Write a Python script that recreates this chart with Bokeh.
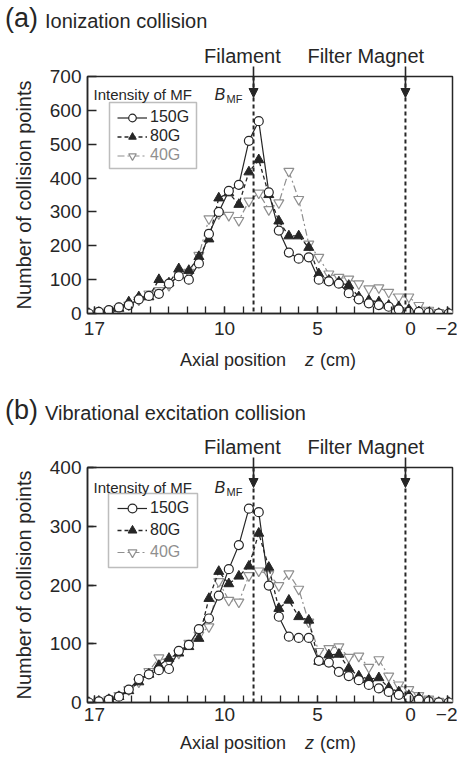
from bokeh.plotting import figure
from bokeh.models import (Span, Arrow, NormalHead, Label, Legend, LegendItem, LinearAxis,
                          FixedTicker, SingleIntervalTicker, Range1d, BoxAnnotation,
                          ColumnDataSource, Div)
from bokeh.layouts import column
from bokeh.embed import file_html
from bokeh.resources import INLINE

# ---------------- data ----------------
z = [17.30, 16.76, 16.22, 15.68, 15.15, 14.61, 14.07, 13.53, 12.99, 12.46,
     11.92, 11.38, 10.84, 10.31, 9.77, 9.23, 8.69, 8.16, 7.62, 7.08,
     6.54, 6.01, 5.47, 4.93, 4.39, 3.85, 3.32, 2.78, 2.24, 1.70,
     1.17, 0.63, 0.09, -0.45, -0.98, -1.52, -2.06]

ion_150G = [0, 5, 10, 18, 25, 42, 52, 58, 88, 110, 100, 148, 235, 300, 362, 380, 510, 568, 358, 245,
            180, 162, 166, 100, 95, 88, 60, 42, 30, 25, 20, 12, 5, 5, 3, 0, 0]
ion_80G = [0, 3, 8, 15, 34, 49, 49, 100, 90, 132, 127, 168, 220, 341, 356, 322, 418, 454, 351, 273,
           229, 229, 195, 117, 98, 93, 83, 49, 39, 34, 24, 20, 12, 5, 2, 0, 0]
ion_40G = [0, 3, 8, 15, 25, 40, 58, 68, 83, 115, 122, 172, 280, 295, 290, 275, 332, 356, 307, 327,
           420, 337, 205, 166, 117, 107, 102, 88, 73, 76, 63, 49, 49, 24, 10, 3, 0]

vib_150G = [0, 2, 5, 10, 22, 40, 48, 55, 57, 88, 98, 125, 143, 182, 227, 268, 330, 324, 199, 146,
            112, 110, 110, 71, 68, 52, 45, 38, 30, 24, 18, 13, 8, 5, 2, 0, 0]
vib_80G = [0, 2, 5, 10, 20, 35, 48, 63, 75, 84, 95, 109, 177, 223, 202, 215, 232, 288, 230, 160,
           174, 146, 140, 70, 81, 82, 58, 45, 40, 42, 25, 18, 12, 8, 3, 0, 0]
vib_40G = [0, 2, 5, 12, 22, 35, 53, 76, 70, 84, 101, 115, 129, 206, 174, 171, 216, 224, 218, 199,
           219, 193, 137, 87, 92, 95, 77, 79, 60, 73, 45, 30, 22, 12, 6, 2, 0]

field_labels = ["150G", "80G", "40G"]
x_tick_values = [17, 10, 5, 0, -2]
x_minor_values = list(range(-2, 18))
filament_z = 8.44
magnet_z = 0.27

# ---------------- styling ----------------
FONT = "Liberation Sans"
INK = "#262626"
GRAY = "#8f8f8f"
NB = "\u00a0"
X0, X1 = 17.37, -2.26
FRAME_L, FRAME_R = 87, 452
PAGE_L = 0
FIG_W = 457


def make_panel(series, ymax, yminor, page_top, fig_h, frame_top, frame_bottom,
               intensity_base, legend_center, legend_row, box, arrow_tip, xlabel_standoff):
    def zx(px):
        return X0 + (px - FRAME_L) * (X1 - X0) / (FRAME_R - FRAME_L)

    def vy(py):
        return (frame_bottom - py) * ymax / (frame_bottom - frame_top)

    p = figure(width=FIG_W, height=fig_h, title=None,
               x_range=Range1d(X0, X1), y_range=Range1d(0, ymax),
               output_backend="svg", toolbar_location=None,
               min_border_left=FRAME_L - PAGE_L,
               min_border_right=FIG_W - (FRAME_R - PAGE_L),
               min_border_top=frame_top - page_top,
               min_border_bottom=fig_h - (frame_bottom - page_top))
    p.background_fill_color = "white"
    p.border_fill_color = "white"
    p.outline_line_color = INK
    p.outline_line_width = 1.5
    p.xgrid.visible = False
    p.ygrid.visible = False

    # axes
    p.xaxis.ticker = FixedTicker(ticks=x_tick_values, minor_ticks=x_minor_values)
    p.yaxis.ticker = SingleIntervalTicker(interval=100, num_minor_ticks=yminor)
    for ax in (p.xaxis[0], p.yaxis[0]):
        ax.axis_line_color = INK
        ax.axis_line_width = 1.5
        ax.major_tick_line_color = INK
        ax.minor_tick_line_color = INK
        ax.major_tick_line_width = 1.3
        ax.minor_tick_line_width = 1.3
        ax.major_tick_out = 0
        ax.minor_tick_out = 0
        ax.major_label_text_font = FONT
        ax.major_label_text_font_size = "19px"
        ax.major_label_text_color = INK
    p.xaxis.major_tick_in = 7
    p.xaxis.minor_tick_in = 7
    p.xaxis.major_label_standoff = xlabel_standoff
    p.yaxis.major_tick_in = 9
    p.yaxis.minor_tick_in = 6
    p.yaxis.major_label_standoff = 6
    p.yaxis.axis_label = "Number of collision points"
    p.yaxis.axis_label_text_font = FONT
    p.yaxis.axis_label_text_font_size = "20px"
    p.yaxis.axis_label_text_font_style = "normal"
    p.yaxis.axis_label_text_color = INK
    p.yaxis.axis_label_standoff = 12

    # marker axis above: Filament / Filter Magnet labels with the arrow shafts as ticks
    top_axis = LinearAxis(ticker=FixedTicker(ticks=[filament_z, magnet_z], minor_ticks=[]),
                          major_label_overrides={filament_z: "Filament" + NB * 4,
                                                 magnet_z: "Filter Magnet" + NB * 6},
                          axis_line_color=None, major_tick_in=0, major_tick_out=10,
                          major_tick_line_color=INK, major_tick_line_width=1.6,
                          minor_tick_line_color=None, major_label_standoff=0,
                          major_label_text_font=FONT, major_label_text_font_size="20px",
                          major_label_text_color=INK)
    p.add_layout(top_axis, "above")

    # reference lines
    for zpos in (filament_z, magnet_z):
        p.add_layout(Span(location=zpos, dimension="height", line_color=INK,
                          line_width=2, line_dash="4 3"))
        p.add_layout(Arrow(end=NormalHead(size=9, fill_color=INK, line_color=INK),
                           x_start=zpos, y_start=ymax, x_end=zpos, y_end=vy(arrow_tip),
                           line_color=INK, line_width=1.6))

    # series
    src = ColumnDataSource(dict(z=z, s150=series[0], s80=series[1], s40=series[2]))
    l40 = p.line("z", "s40", source=src, line_color=GRAY, line_width=1.2, line_dash="7 3 2 3")
    m40 = p.scatter("z", "s40", source=src, marker="inverted_triangle", size=10,
                    fill_color="white", line_color=GRAY, line_width=1.2)
    l80 = p.line("z", "s80", source=src, line_color=INK, line_width=1.3, line_dash="4 3")
    m80 = p.scatter("z", "s80", source=src, marker="triangle", size=10,
                    fill_color=INK, line_color=INK, line_width=1)
    l150 = p.line("z", "s150", source=src, line_color=INK, line_width=1.2)
    m150 = p.scatter("z", "s150", source=src, marker="circle", size=9,
                     fill_color="white", line_color=INK, line_width=1.2)

    # legend (box + two legends so that the 40G label can be gray)
    p.add_layout(BoxAnnotation(left=zx(box[0]), right=zx(box[1]), top=vy(box[2]), bottom=vy(box[3]),
                               fill_alpha=0, line_color=INK, line_width=1.5))
    top = legend_center - legend_row / 2
    common = dict(padding=0, spacing=0, margin=0, glyph_width=30, glyph_height=legend_row,
                  label_height=legend_row, label_standoff=3, border_line_alpha=0,
                  background_fill_alpha=0, label_text_font=FONT, label_text_font_size="16px")
    legA = Legend(items=[LegendItem(label=field_labels[0], renderers=[l150, m150]),
                         LegendItem(label=field_labels[1], renderers=[l80, m80])],
                  location=(117 - FRAME_L, frame_bottom - (top + 2 * legend_row)),
                  label_text_color=INK, **common)
    legB = Legend(items=[LegendItem(label=field_labels[2], renderers=[l40, m40])],
                  location=(117 - FRAME_L, frame_bottom - (top + 3 * legend_row)),
                  label_text_color=GRAY, **common)
    p.add_layout(legA)
    p.add_layout(legB)

    # texts inside the frame
    def txt(px, py, text, size, style="normal"):
        p.add_layout(Label(x=zx(px), y=vy(py), text=text, text_font=FONT,
                           text_font_size=size, text_font_style=style, text_color=INK,
                           text_align="left", text_baseline="alphabetic"))

    txt(93, intensity_base, "Intensity of MF", "15px")
    txt(214, intensity_base, "B", "16px", style="italic")
    txt(226, intensity_base + 4, "MF", "11px")
    return p


def text_div(height, spans):
    parts = []
    for left, top, size, style, html in spans:
        parts.append(
            f'<span style="position:absolute;left:{left}px;top:{top}px;font-size:{size}px;'
            f'line-height:1;white-space:nowrap;font-style:{style};">{html}</span>')
    html = (f'<div style="position:relative;width:{FIG_W}px;height:{height}px;'
            f"font-family:'{FONT}';color:{INK};\">" + "".join(parts) + "</div>")
    return Div(text=html, width=FIG_W, height=height, margin=0)


def xlabel_spans(top):
    return [(180, top, 18, "normal", "Axial position"),
            (305, top, 18, "italic", "z"),
            (320, top, 18, "normal", "(cm)")]


title_a = text_div(38, [(5, 5, 27, "normal", "(a)"),
                        (45, 11, 20, "normal", "Ionization collision")])
pa = make_panel((ion_150G, ion_80G, ion_40G), 700, 0,
                page_top=38, fig_h=307, frame_top=76, frame_bottom=313,
                intensity_base=94, legend_center=117, legend_row=19,
                box=(109, 196, 102, 168), arrow_tip=97, xlabel_standoff=8)
middle = text_div(85, xlabel_spans(6) + [(5, 52, 27, "normal", "(b)"),
                                         (45, 58, 20, "normal", "Vibrational excitation collision")])
pb = make_panel((vib_150G, vib_80G, vib_40G), 400, 1,
                page_top=430, fig_h=302, frame_top=467, frame_bottom=702,
                intensity_base=487, legend_center=508, legend_row=22,
                box=(108, 197, 493, 567), arrow_tip=487, xlabel_standoff=5)
bottom = text_div(35, xlabel_spans(2))

layout = column(title_a, pa, middle, pb, bottom, spacing=0)
open("out.html", "w").write(file_html(layout, INLINE))
